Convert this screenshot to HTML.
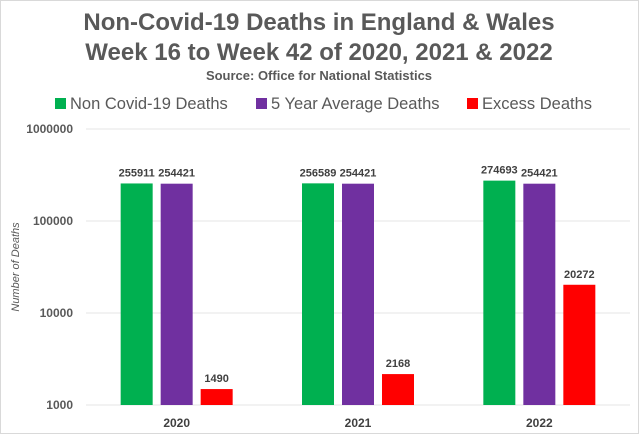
<!DOCTYPE html>
<html><head><meta charset="utf-8"><style>
body{margin:0;background:#fff;}
svg{display:block;font-family:"Liberation Sans",Arial,sans-serif;}
</style></head><body>
<svg width="639" height="434" viewBox="0 0 639 434">
<rect x="0.5" y="0.5" width="638" height="433" fill="#fff" stroke="#d9d9d9"/>
<text x="319" y="30" text-anchor="middle" font-size="24" font-weight="bold" fill="#595959">Non-Covid-19 Deaths in England &amp; Wales</text>
<text x="319" y="60" text-anchor="middle" font-size="24" font-weight="bold" fill="#595959">Week 16 to Week 42 of 2020, 2021 &amp; 2022</text>
<text x="319" y="80" text-anchor="middle" font-size="13" font-weight="bold" fill="#595959">Source: Office for National Statistics</text>
<g id="legend"></g>
<text transform="translate(19,267) rotate(-90)" text-anchor="middle" font-size="11" font-style="italic" fill="#595959">Number of Deaths</text>
<g id="grid"></g><g id="bars"></g>
</svg>
<script>
const categories=["2020","2021","2022"];
const nonCovid=[255911,256589,274693];
const fiveYear=[254421,254421,254421];
const excess=[1490,2168,20272];
const yTicks=[1000,10000,100000,1000000];
const seriesNames=["Non Covid-19 Deaths","5 Year Average Deaths","Excess Deaths"];
const colors=["#00b050","#7030a0","#ff0000"];
const NS="http://www.w3.org/2000/svg";
const plotL=86,plotR=630,yBot=405,decade=92;
function y(v){return yBot-(Math.log10(v)-3)*decade;}
const groupW=(plotR-plotL)/categories.length;
function gx(i){return plotL+groupW*(i+0.5);}
function mk(tag,attrs,parent){const e=document.createElementNS(NS,tag);for(const k in attrs)e.setAttribute(k,attrs[k]);parent.appendChild(e);return e;}
const grid=document.getElementById('grid');
yTicks.forEach(t=>{
 const l=mk('line',{x1:plotL,x2:plotR,y1:y(t),y2:y(t),stroke:'#e6e6e6'},grid);
 
 
 const tx=mk('text',{x:73,y:y(t)+4,'text-anchor':'end','font-size':12,'font-weight':'bold',fill:'#595959'},grid);
 tx.textContent=t;
 
 
});
const bars=document.getElementById('bars');
const series=[nonCovid,fiveYear,excess];
const bw=32,step=40;
categories.forEach((c,i)=>{
 series.forEach((s,j)=>{
  const cx=gx(i)+(j-1)*step;
  const r=mk('rect',{x:cx-bw/2,y:y(s[i]),width:bw,height:yBot-y(s[i]),fill:colors[j]},bars);
  
  
  const t=mk('text',{x:cx,y:y(s[i])-7,'text-anchor':'middle','font-size':11,'font-weight':'bold',fill:'#404040'},bars);
  t.textContent=s[i];
  
  
 });
 const t=mk('text',{x:gx(i),y:427,'text-anchor':'middle','font-size':12,'font-weight':'bold',fill:'#404040'},bars);
 t.textContent=c;
 
 
});
const lg=document.getElementById('legend');
const lx=[55,256,467];
seriesNames.forEach((n,j)=>{
 const r=mk('rect',{x:lx[j],y:98,width:11,height:11,fill:colors[j]},lg);
 
 
 const t=mk('text',{x:lx[j]+15,y:109,'font-size':16.5,fill:'#595959'},lg);
 t.textContent=n;
 
 
});
</script>
</body></html>
